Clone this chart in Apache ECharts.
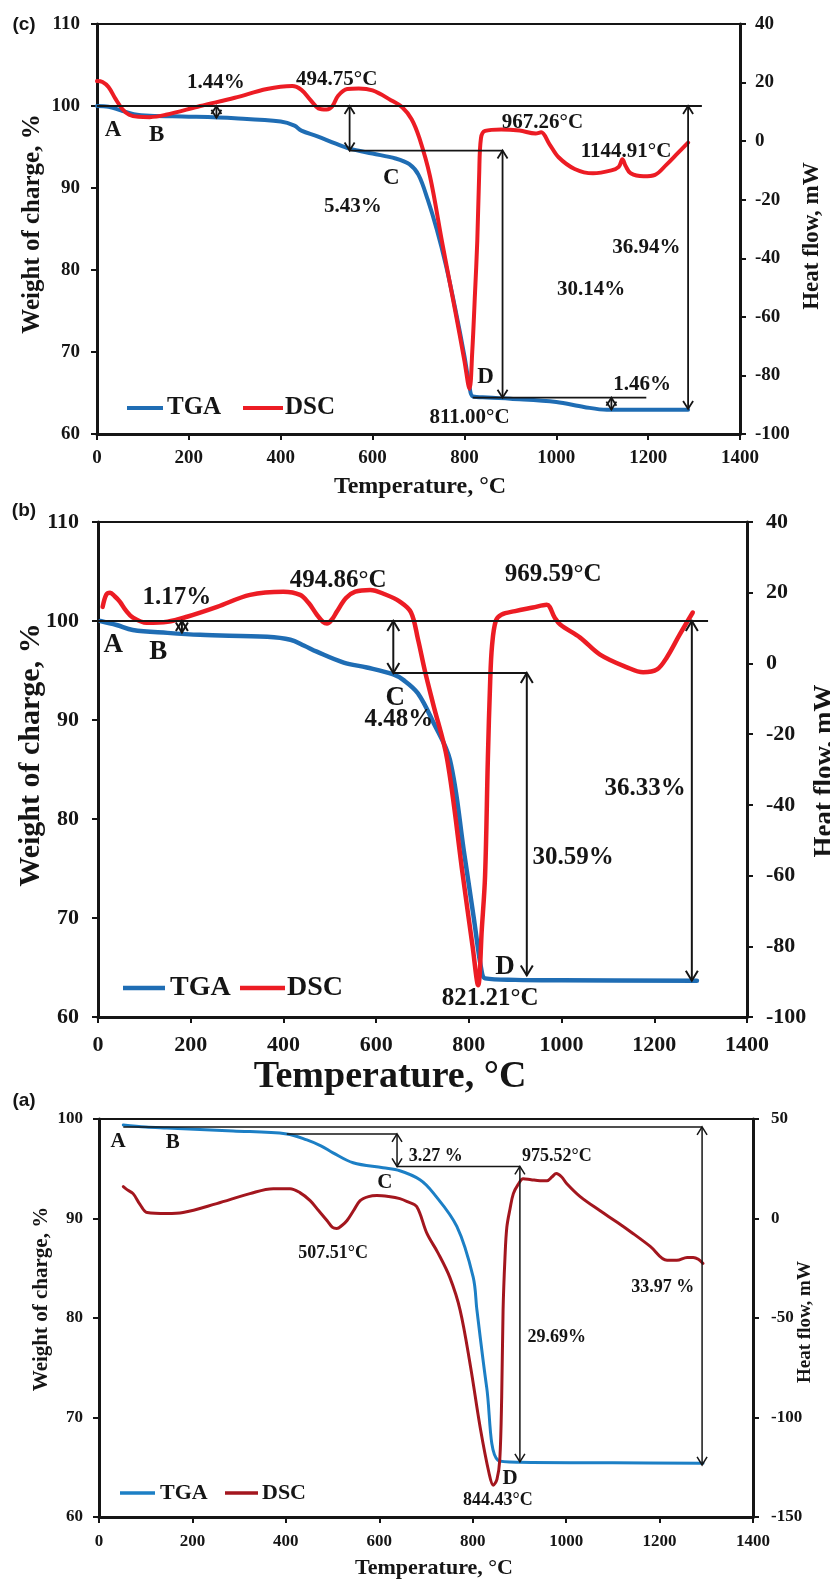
<!DOCTYPE html>
<html>
<head>
<meta charset="utf-8">
<script src="https://cdn.jsdelivr.net/npm/echarts@6/dist/echarts.min.js"></script>
<style>
html,body{margin:0;padding:0;background:#fff;}
#chart{width:830px;height:1581px;}
</style>
</head>
<body>
<div id="chart"></div>
<script>
// ---------- sample (c) ----------
const tgaC = [[0,100.0],[25,99.9],[50,99.5],[80,99.0],[115,98.8],[200,98.7],[300,98.5],[400,98.1],[430,97.6],[445,97.0],[480,96.3],[520,95.4],[550,94.8],[600,94.2],[650,93.6],[680,92.9],[700,91.6],[720,88.6],[740,84.9],[760,80.5],[780,75.3],[800,69.5],[811,65.8],[818,64.6],[850,64.45],[900,64.3],[1000,63.9],[1060,63.3],[1110,62.95],[1200,62.95],[1287,62.95]];
const dscC = [[0,20.5],[12,20.2],[25,18.5],[40,14.5],[55,11],[70,9],[90,8.3],[115,8.2],[150,9],[225,12],[300,14.8],[370,17.8],[425,18.8],[445,17.5],[465,14],[482,11.2],[500,10.8],[512,11.8],[525,15.5],[545,17.8],[570,18],[600,17.3],[640,14],[665,11.5],[685,7.5],[702,1],[725,-12],[752,-35],[780,-58],[800,-75],[811,-84.6],[817,-72],[823,-52],[828,-34],[832,-12],[836,1],[845,3.5],[880,4],[920,3.6],[955,2.6],[967,3],[985,-1],[1005,-5.5],[1040,-9.5],[1080,-11],[1120,-10],[1136,-8.8],[1144,-6.2],[1151,-8.5],[1162,-11],[1190,-12],[1215,-11.5],[1240,-8],[1265,-4],[1287,-0.5]];
// [T1, weight1, T2, weight2, heads: 0 none / 2 both ends]
const arrowsC = [[0,100,1317,100,0],[260,100,260,98.56,2],[550,100,550,94.57,2],[550,94.57,883,94.57,0],[883,94.57,883,64.43,2],[818,64.43,1196,64.43,0],[1120,64.43,1120,62.97,2],[1287,100,1287,63.06,2]];
// [T, weight, text, kind: L = point letter, n = value note]
const notesC = [[35,97.1,'A','L'],[130,96.5,'B','L'],[259,102.8,'1.44%','n'],[522,103.2,'494.75°C','n'],[641,91.2,'C','L'],[557,87.7,'5.43%','n'],[970,98.0,'967.26°C','n'],[1152,94.4,'1144.91°C','n'],[1196,82.7,'36.94%','n'],[1076,77.6,'30.14%','n'],[846,67.0,'D','L'],[811,62.0,'811.00°C','n'],[1187,66.0,'1.46%','n']];

// ---------- sample (b) ----------
const tgaB = [[5,100.0],[40,99.6],[75,99.1],[150,98.8],[220,98.6],[365,98.4],[415,98.1],[445,97.5],[472,96.9],[530,95.8],[580,95.3],[637,94.6],[660,94.0],[690,92.7],[723,89.8],[759,86.0],[790,76.5],[810,70.2],[828,64.5],[835,63.9],[900,63.75],[1000,63.7],[1292,63.65]];
const dscB = [[10,16],[18,19.5],[26,20],[36,19],[47,17.5],[60,15],[75,13],[105,11.5],[150,11.8],[192,13.2],[257,16],[328,19.4],[400,20.3],[436,19.4],[455,17],[472,13.8],[485,11.8],[494,11.3],[505,12.5],[515,14.6],[535,18.5],[555,20.3],[587,20.8],[620,19.5],[651,17.5],[675,14.5],[690,7],[705,-2],[723,-11.5],[753,-27],[787,-60],[808,-80],[820,-91],[828,-75],[835,-60],[841,-27],[846,-5],[850,5],[858,12],[870,13.8],[900,14.8],[938,15.8],[968,16.6],[985,13],[997,11],[1040,7.3],[1083,2.5],[1141,-1.1],[1176,-2.5],[1206,-1.7],[1227,1.7],[1255,8.2],[1283,14.4]];
const arrowsB = [[0,100,1316,100,0],[181,100,181,98.83,2],[637,100,637,94.75,2],[637,94.75,925,94.75,0],[925,94.75,925,64.2,2],[1281,100,1281,63.67,2]];
const notesB = [[33,97.6,'A','L'],[130,96.9,'B','L'],[170,102.4,'1.17%','n'],[518,104.1,'494.86°C','n'],[641,92.2,'C','L'],[649,90.0,'4.48%','n'],[982,104.7,'969.59°C','n'],[1180,83.1,'36.33%','n'],[1025,76.1,'30.59%','n'],[878,65.0,'D','L'],[846,61.9,'821.21°C','n']];

// ---------- sample (a) ----------
const tgaA = [[52,99.4],[100,99.2],[145,99.1],[287,98.8],[402,98.5],[445,97.9],[475,97.3],[501,96.6],[544,95.6],[608,95.1],[644,94.8],[687,93.9],[715,92.6],[766,89.2],[801,84.1],[809,80.8],[830,73.0],[854,65.7],[900,65.5],[1100,65.45],[1293,65.4]];
const dscA = [[52,16],[60,14.5],[73,12.5],[88,7],[103,3],[145,2.5],[180,3],[252,7.5],[323,12.5],[373,15],[409,15],[430,13],[452,9],[470,4],[488,-1],[500,-4.5],[509,-5],[520,-3.5],[531,-1],[545,4],[559,9],[577,11],[595,11.5],[620,11],[644,10],[660,8.5],[680,6],[702,-7.5],[725,-17],[751,-29.6],[773,-46],[795,-74],[816,-105],[835,-128],[844,-134],[852,-131],[858,-121],[862,-90],[865,-46],[869,-20],[873,-4.5],[880,5],[887,12.5],[897,17],[908,20],[925,19.5],[944,19],[959,19],[970,21],[979,22.6],[990,21],[1001,17.6],[1030,11],[1072,4],[1110,-2],[1143,-7.5],[1180,-14],[1216,-21],[1237,-21],[1259,-19.6],[1272,-19.6],[1283,-20.5],[1293,-22.6]];
const arrowsA = [[52,99.2,1291,99.2,0],[402,98.5,638,98.5,0],[638,98.5,638,95.23,2],[638,95.23,901,95.23,0],[901,95.23,901,65.54,2],[1291,99.2,1291,65.23,2]];
const notesA = [[41,97.7,'A','L'],[158,97.6,'B','L'],[612,93.6,'C','L'],[721,96.2,'3.27 %','n'],[501,86.5,'507.51°C','n'],[980,96.2,'975.52°C','n'],[1207,83.1,'33.97 %','n'],[980,78.1,'29.69%','n'],[880,63.9,'D','L'],[854,61.7,'844.43°C','n']];

const legendNames = ['TGA', 'DSC'];
const xTitle = 'Temperature, °C';
const leftTitle = 'Weight of charge, %';
const rightTitle = 'Heat flow, mW';

const SERIF = "'Liberation Serif','Times New Roman',serif";
const SANS = "'Liberation Sans',Arial,sans-serif";
const INK = '#151515';

// layout and styling of the three stacked panels
const panels = [
  { tag:'(c)', tagPos:[24,25], grid:{left:97,top:24,width:643,height:410},
    w:[60,110,10], h:[-100,40,20], tga:tgaC, dsc:dscC, arrows:arrowsC, notes:notesC,
    blue:'#1f6db4', red:'#ec1c24', lw:4, tick:19, mx:15, ml:17, mr:15,
    note:21, letter:23, head:[8,5], aw:1.8,
    tX:{x:420,y:487,fs:24}, tL:{x:33,y:224,fs:25}, tR:{x:812,y:236,fs:23},
    leg:{y:408, l1:[127,163], t1:167, l2:[243,283], t2:285, fs:25, lw:4} },
  { tag:'(b)', tagPos:[24,511], grid:{left:98,top:522,width:649,height:495},
    w:[60,110,10], h:[-100,40,20], tga:tgaB, dsc:dscB, arrows:arrowsB, notes:notesB,
    blue:'#1f6db4', red:'#ec1c24', lw:4.5, tick:22, mx:17, ml:19, mr:19,
    note:25, letter:27, head:[10,6], aw:2,
    tX:{x:390,y:1077,fs:38}, tL:{x:31,y:755,fs:30}, tR:{x:825,y:771,fs:27},
    leg:{y:988, l1:[123,165], t1:170, l2:[240,285], t2:287, fs:28, lw:4.5} },
  { tag:'(a)', tagPos:[24,1101], grid:{left:99,top:1119,width:654,height:398},
    w:[60,100,10], h:[-150,50,50], tga:tgaA, dsc:dscA, arrows:arrowsA, notes:notesA,
    blue:'#1c7fc5', red:'#a3161e', lw:3, tick:17, mx:16, ml:16, mr:18,
    note:18, letter:21, head:[8,5], aw:1.5,
    tX:{x:434,y:1568,fs:22}, tL:{x:42,y:1299,fs:21}, tR:{x:805,y:1322,fs:19},
    leg:{y:1493, l1:[120,155], t1:160, l2:[225,258], t2:262, fs:22, lw:3.5} }
];

function axisStyle(fs, margin) {
  return {
    axisLine: { show: true, onZero: false, lineStyle: { color: INK, width: 3 } },
    axisTick: { show: true, inside: false, length: 6, lineStyle: { color: INK, width: 2 } },
    axisLabel: { color: INK, fontFamily: SERIF, fontWeight: 'bold', fontSize: fs, margin: margin,
      formatter: function (v) { return String(v); } },
    splitLine: { show: false }
  };
}

// straight annotation line with open chevron heads
function arrowRenderer(p) {
  return function (params, api) {
    const a = api.coord([api.value(0), api.value(1)]);
    const b = api.coord([api.value(2), api.value(3)]);
    const heads = api.value(4);
    const dx = b[0] - a[0], dy = b[1] - a[1];
    const len = Math.hypot(dx, dy) || 1;
    const ux = dx / len, uy = dy / len, nx = -uy, ny = ux;
    const L = p.head[0], W = p.head[1];
    const st = { stroke: INK, fill: null, lineWidth: p.aw };
    const kids = [{ type: 'line', shape: { x1: a[0], y1: a[1], x2: b[0], y2: b[1] }, style: st }];
    function head(tip, sx, sy) {
      kids.push({ type: 'polyline', shape: { points: [
        [tip[0] - sx * L + nx * W, tip[1] - sy * L + ny * W],
        [tip[0], tip[1]],
        [tip[0] - sx * L - nx * W, tip[1] - sy * L - ny * W]
      ] }, style: st });
    }
    if (heads >= 1) head(b, ux, uy);
    if (heads >= 2) head(a, -ux, -uy);
    return { type: 'group', children: kids };
  };
}

function noteRenderer(p) {
  return function (params, api) {
    const item = p.notes[params.dataIndex];
    const pt = api.coord([item[0], item[1]]);
    const fs = item[3] === 'L' ? p.letter : p.note;
    return { type: 'text', x: pt[0], y: pt[1], style: {
      text: item[2], font: 'bold ' + fs + 'px ' + SERIF, fill: INK, align: 'center', verticalAlign: 'middle'
    } };
  };
}

const grids = [], xAxes = [], yAxes = [], series = [], graphics = [];
panels.forEach(function (p, i) {
  grids.push(Object.assign({ show: true, borderColor: INK, borderWidth: 2, containLabel: false, outerBoundsMode: 'none' }, p.grid));
  xAxes.push(Object.assign({ type: 'value', gridIndex: i, min: 0, max: 1400, interval: 200 }, axisStyle(p.tick, p.mx)));
  yAxes.push(Object.assign({ type: 'value', gridIndex: i, position: 'left', min: p.w[0], max: p.w[1], interval: p.w[2] }, axisStyle(p.tick, p.ml)));
  yAxes.push(Object.assign({ type: 'value', gridIndex: i, position: 'right', min: p.h[0], max: p.h[1], interval: p.h[2] }, axisStyle(p.tick, p.mr)));
  const yl = 2 * i, yr = 2 * i + 1;
  series.push({ name: legendNames[0], type: 'line', xAxisIndex: i, yAxisIndex: yl, data: p.tga,
    showSymbol: false, smooth: 0.35, z: 2, lineStyle: { color: p.blue, width: p.lw, join: 'round', cap: 'round' }, itemStyle: { color: p.blue } });
  series.push({ name: legendNames[1], type: 'line', xAxisIndex: i, yAxisIndex: yr, data: p.dsc,
    showSymbol: false, smooth: 0.35, z: 3, lineStyle: { color: p.red, width: p.lw, join: 'round', cap: 'round' }, itemStyle: { color: p.red } });
  series.push({ type: 'custom', xAxisIndex: i, yAxisIndex: yl, data: p.arrows, clip: false, z: 5,
    encode: { x: [0, 2], y: [1, 3] }, renderItem: arrowRenderer(p) });
  series.push({ type: 'custom', xAxisIndex: i, yAxisIndex: yl, data: p.notes.map(function (n) { return [n[0], n[1]]; }),
    clip: false, z: 6, encode: { x: 0, y: 1 }, renderItem: noteRenderer(p) });

  // panel tag, axis titles, legend
  graphics.push({ type: 'text', x: p.tagPos[0], y: p.tagPos[1], style: { text: p.tag, font: 'bold 19px ' + SANS, fill: INK, align: 'center', verticalAlign: 'middle' } });
  graphics.push({ type: 'text', x: p.tX.x, y: p.tX.y, style: { text: xTitle, font: 'bold ' + p.tX.fs + 'px ' + SERIF, fill: INK, align: 'center', verticalAlign: 'middle' } });
  graphics.push({ type: 'text', x: p.tL.x, y: p.tL.y, rotation: Math.PI / 2, style: { text: leftTitle, font: 'bold ' + p.tL.fs + 'px ' + SERIF, fill: INK, align: 'center', verticalAlign: 'middle' } });
  graphics.push({ type: 'text', x: p.tR.x, y: p.tR.y, rotation: Math.PI / 2, style: { text: rightTitle, font: 'bold ' + p.tR.fs + 'px ' + SERIF, fill: INK, align: 'center', verticalAlign: 'middle' } });
  const g = p.leg;
  graphics.push({ type: 'line', shape: { x1: g.l1[0], y1: g.y, x2: g.l1[1], y2: g.y }, style: { stroke: p.blue, lineWidth: g.lw } });
  graphics.push({ type: 'text', x: g.t1, y: g.y, style: { text: legendNames[0], font: 'bold ' + g.fs + 'px ' + SERIF, fill: INK, align: 'left', verticalAlign: 'middle' } });
  graphics.push({ type: 'line', shape: { x1: g.l2[0], y1: g.y, x2: g.l2[1], y2: g.y }, style: { stroke: p.red, lineWidth: g.lw } });
  graphics.push({ type: 'text', x: g.t2, y: g.y, style: { text: legendNames[1], font: 'bold ' + g.fs + 'px ' + SERIF, fill: INK, align: 'left', verticalAlign: 'middle' } });
});

const chart = echarts.init(document.getElementById('chart'), null, { renderer: 'canvas' });
chart.setOption({
  backgroundColor: '#ffffff',
  animation: false,
  grid: grids,
  xAxis: xAxes,
  yAxis: yAxes,
  series: series,
  graphic: graphics
});
</script>
</body>
</html>
